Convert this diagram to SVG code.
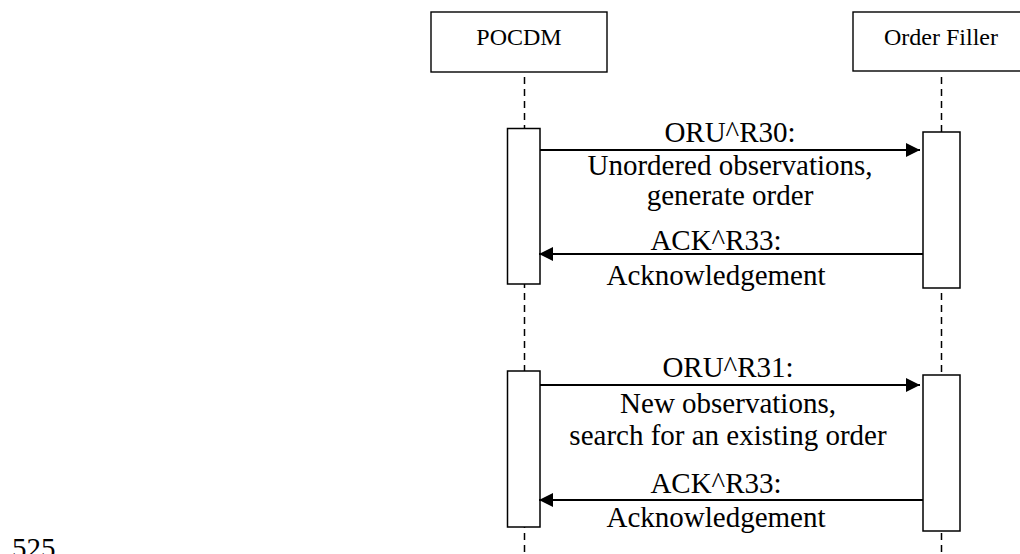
<svg xmlns="http://www.w3.org/2000/svg" width="1020" height="554" viewBox="0 0 1020 554">
  <style>
    .hdr { fill: #fff; stroke: #000; stroke-width: 1.4; }
    .act { fill: #fff; stroke: #000; stroke-width: 1.5; }
    .life { stroke: #000; stroke-width: 1.5; stroke-dasharray: 7 5; fill: none; }
    .msg { stroke: #000; stroke-width: 2; fill: none; }
    .t24 { font-family: "Liberation Serif", "Times New Roman", serif; font-size: 24px; text-anchor: middle; fill: #000; }
    .t29 { font-family: "Liberation Serif", "Times New Roman", serif; font-size: 29px; text-anchor: middle; fill: #000; }
  </style>
  <defs>
    <marker id="ah" viewBox="0 0 14 14" refX="14" refY="7" markerWidth="14" markerHeight="14" markerUnits="userSpaceOnUse" orient="auto">
      <path d="M0,0 L14,7 L0,14 Z" fill="#000"/>
    </marker>
  </defs>
  <rect width="1020" height="554" fill="#fff"/>

  <g id="lifelines">
    <line class="life" x1="524.5" y1="77" x2="524.5" y2="554"/>
    <line class="life" x1="941.5" y1="77" x2="941.5" y2="554"/>
  </g>

  <g id="pocdm">
    <rect class="hdr" x="431" y="12" width="176" height="60"/>
    <text class="t24" x="519" y="45">POCDM</text>
  </g>
  <g id="order-filler">
    <rect class="hdr" x="853" y="12" width="180" height="59"/>
    <text class="t24" x="941" y="45">Order Filler</text>
  </g>

  <g id="pocdm-act1"><rect class="act" x="507.5" y="128.5" width="32.5" height="155.5"/></g>
  <g id="filler-act1"><rect class="act" x="923" y="132" width="37" height="156"/></g>
  <g id="pocdm-act2"><rect class="act" x="507.5" y="371" width="32.5" height="156"/></g>
  <g id="filler-act2"><rect class="act" x="923" y="375" width="37" height="156"/></g>

  <g id="connectors">
    <line class="msg" x1="540" y1="150" x2="920" y2="150" marker-end="url(#ah)"/>
    <line class="msg" x1="923" y1="254" x2="539" y2="254" marker-end="url(#ah)"/>
    <line class="msg" x1="540" y1="385" x2="920" y2="385" marker-end="url(#ah)"/>
    <line class="msg" x1="923" y1="500" x2="539" y2="500" marker-end="url(#ah)"/>
  </g>

  <g id="labels">
    <text class="t29" x="730" y="142">ORU^R30:</text>
    <text class="t29" x="730" y="175">Unordered observations,</text>
    <text class="t29" x="730" y="205">generate order</text>
    <text class="t29" x="716" y="250">ACK^R33:</text>
    <text class="t29" x="716" y="285">Acknowledgement</text>
    <text class="t29" x="728" y="377">ORU^R31:</text>
    <text class="t29" x="728" y="413">New observations,</text>
    <text class="t29" x="728" y="445">search for an existing order</text>
    <text class="t29" x="716" y="493">ACK^R33:</text>
    <text class="t29" x="716" y="527">Acknowledgement</text>
  </g>

  <text x="12" y="558" font-family="Liberation Serif, Times New Roman, serif" font-size="29" fill="#000">525</text>
</svg>
